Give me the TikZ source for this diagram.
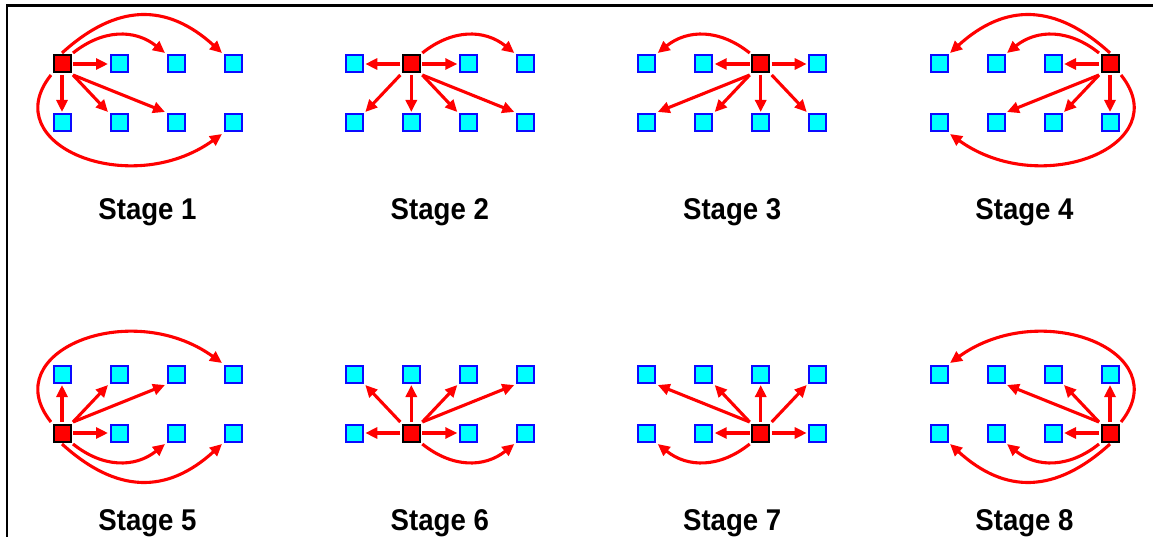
\documentclass[tikz,border=0pt]{standalone}
\usepackage{fontspec}
\setmainfont{Liberation Sans}
\usetikzlibrary{arrows.meta}
\definecolor{cellfill}{RGB}{0,255,255}
\definecolor{cellline}{RGB}{10,10,255}
\definecolor{srcfill}{RGB}{255,0,0}
\definecolor{arrred}{RGB}{255,0,0}
\tikzset{
  cell/.style={draw=cellline, fill=cellfill, line width=2pt, minimum size=17pt, inner sep=0pt, outer sep=2.5pt},
  src/.style={draw=black, fill=srcfill, line width=2pt, minimum size=17pt, inner sep=0pt, outer sep=2.5pt},
  arr/.style={draw=arrred, line width=3.1pt, -{Triangle[length=12pt,width=11pt]}},
  lab/.style={anchor=base, inner sep=0pt, font=\fontsize{30}{36}\selectfont\bfseries},
  frame/.style={draw=black, line width=2.5pt}
}
\begin{document}
\begin{tikzpicture}[x=1pt, y=-1pt]
\useasboundingbox (0,0) rectangle (1153,537);
\draw[frame] (7,537) -- (7,5.3) -- (1153,5.3);
% nodes
\foreach \s/\ox/\oy/\sr/\sc in {1/0/0/1/1, 2/292.3/0/1/2, 3/584.7/0/1/3, 4/877/0/1/4,
                                5/0/310/2/1, 6/292.3/310/2/2, 7/584.7/310/2/3, 8/877/310/2/4}{
  \foreach \r/\y in {1/64, 2/123}{
    \foreach \c/\x in {1/0, 2/57, 3/114, 4/171}{
      \def\sty{cell}
      \ifnum\r=\sr \ifnum\c=\sc \def\sty{src}\fi\fi
      \node[\sty] (n\s\r\c) at ({62+\ox+\x},{\oy+\y}) {};
    }
  }
  \node[lab] (l\s) at ({147.5+\ox},{220+\oy}) {\scalebox{0.92}[1]{Stage \s}};
}
% Stage 1
\draw[arr] (n111.east) -- (n112.west);
\draw[arr] (n111.south) -- (n121.north);
\draw[arr] (n111.south east) -- (n122.north west);
\draw[arr] (n111.south east) -- (n123.north west);
\draw[arr] (n111.north east) .. controls +(30,-24) and +(-30,-24) .. (n113.north west);
\draw[arr] (n111.north) .. controls +(55,-50) and +(-55,-50) .. (n114.north west);
\draw[arr] (n111.south west) .. controls +(-56,70) and +(-92,66) .. (n124.south west);
% Stage 2
\draw[arr] (n212.west) -- (n211.east);
\draw[arr] (n212.east) -- (n213.west);
\draw[arr] (n212.south) -- (n222.north);
\draw[arr] (n212.south west) -- (n221.north east);
\draw[arr] (n212.south east) -- (n223.north west);
\draw[arr] (n212.south east) -- (n224.north west);
\draw[arr] (n212.north east) .. controls +(30,-24) and +(-30,-24) .. (n214.north west);
% Stage 3
\draw[arr] (n313.east) -- (n314.west);
\draw[arr] (n313.west) -- (n312.east);
\draw[arr] (n313.south) -- (n323.north);
\draw[arr] (n313.south east) -- (n324.north west);
\draw[arr] (n313.south west) -- (n322.north east);
\draw[arr] (n313.south west) -- (n321.north east);
\draw[arr] (n313.north west) .. controls +(-30,-24) and +(30,-24) .. (n311.north east);
% Stage 4
\draw[arr] (n414.west) -- (n413.east);
\draw[arr] (n414.south) -- (n424.north);
\draw[arr] (n414.south west) -- (n423.north east);
\draw[arr] (n414.south west) -- (n422.north east);
\draw[arr] (n414.north west) .. controls +(-30,-24) and +(30,-24) .. (n412.north east);
\draw[arr] (n414.north) .. controls +(-55,-50) and +(55,-50) .. (n411.north east);
\draw[arr] (n414.south east) .. controls +(56,70) and +(92,66) .. (n421.south east);
% Stage 5
\draw[arr] (n521.north) -- (n511.south);
\draw[arr] (n521.east) -- (n522.west);
\draw[arr] (n521.north east) -- (n512.south west);
\draw[arr] (n521.north east) -- (n513.south west);
\draw[arr] (n521.south east) .. controls +(30,24) and +(-30,24) .. (n523.south west);
\draw[arr] (n521.south) .. controls +(55,50) and +(-55,50) .. (n524.south west);
\draw[arr] (n521.north west) .. controls +(-56,-70) and +(-92,-66) .. (n514.north west);
% Stage 6
\draw[arr] (n622.west) -- (n621.east);
\draw[arr] (n622.east) -- (n623.west);
\draw[arr] (n622.north) -- (n612.south);
\draw[arr] (n622.north west) -- (n611.south east);
\draw[arr] (n622.north east) -- (n613.south west);
\draw[arr] (n622.north east) -- (n614.south west);
\draw[arr] (n622.south east) .. controls +(30,24) and +(-30,24) .. (n624.south west);
% Stage 7
\draw[arr] (n723.east) -- (n724.west);
\draw[arr] (n723.west) -- (n722.east);
\draw[arr] (n723.north) -- (n713.south);
\draw[arr] (n723.north east) -- (n714.south west);
\draw[arr] (n723.north west) -- (n712.south east);
\draw[arr] (n723.north west) -- (n711.south east);
\draw[arr] (n723.south west) .. controls +(-30,24) and +(30,24) .. (n721.south east);
% Stage 8
\draw[arr] (n824.north) -- (n814.south);
\draw[arr] (n824.west) -- (n823.east);
\draw[arr] (n824.north west) -- (n813.south east);
\draw[arr] (n824.north west) -- (n812.south east);
\draw[arr] (n824.south west) .. controls +(-30,24) and +(30,24) .. (n822.south east);
\draw[arr] (n824.south) .. controls +(-55,50) and +(55,50) .. (n821.south east);
\draw[arr] (n824.north east) .. controls +(56,-70) and +(92,-66) .. (n811.north east);
\end{tikzpicture}
\end{document}
